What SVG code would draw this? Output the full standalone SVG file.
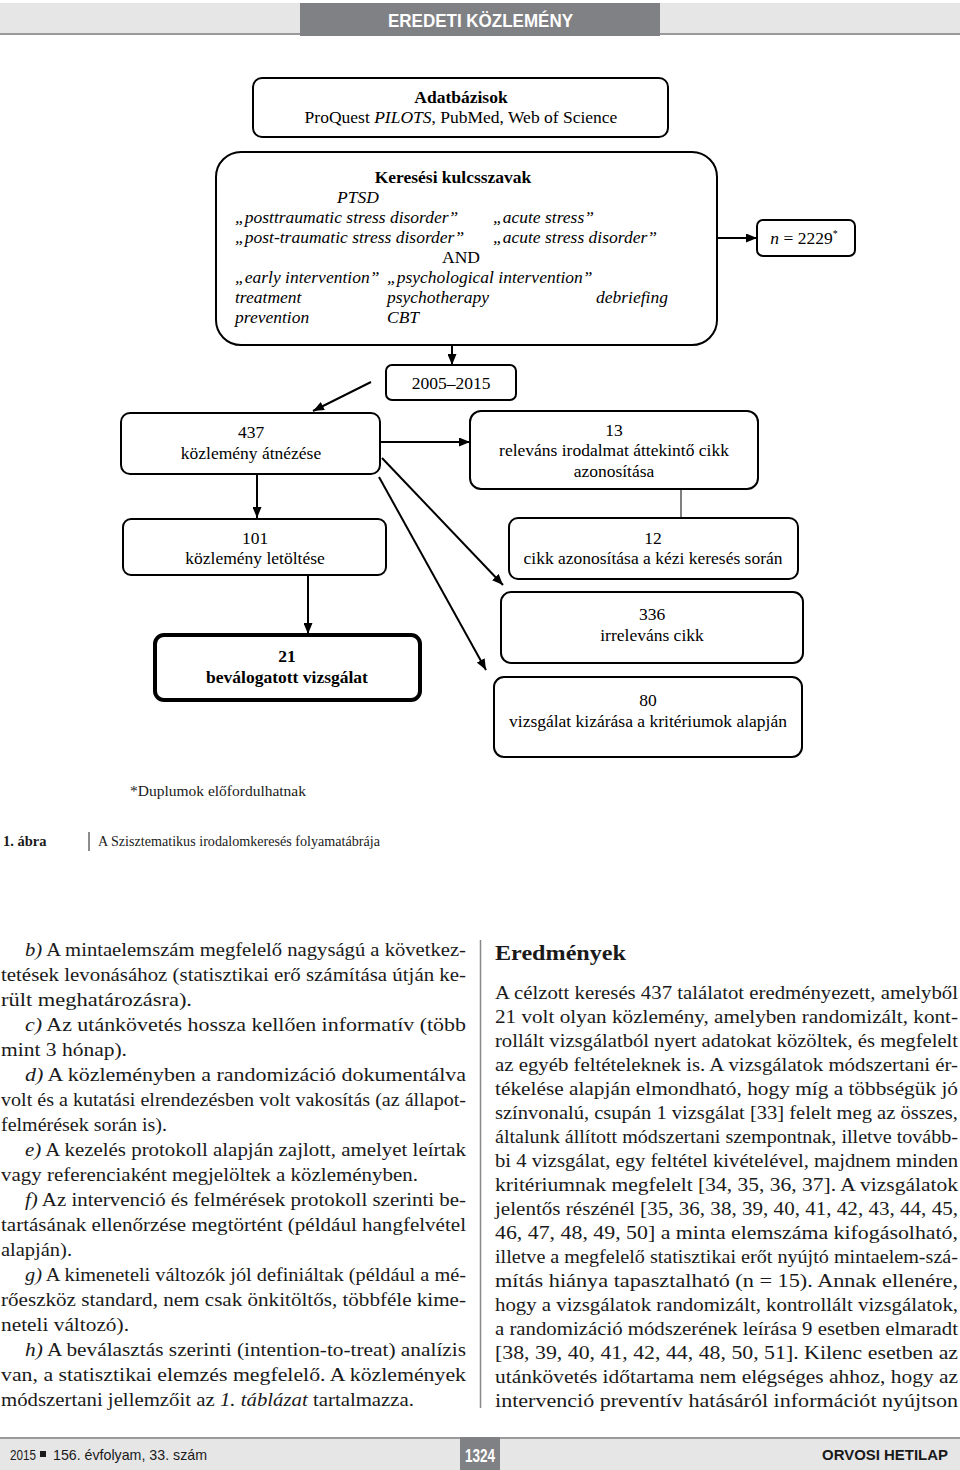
<svg xmlns="http://www.w3.org/2000/svg" width="960" height="1470" viewBox="0 0 960 1470">
<defs>
<marker id="arr" markerUnits="userSpaceOnUse" markerWidth="11" markerHeight="9" refX="11" refY="4.5" orient="auto">
<path d="M0,0 L11,4.5 L0,9 z" fill="#000"/>
</marker>
<style>
.box{fill:#fff;stroke:#000;stroke-width:2}
.thick{fill:#fff;stroke:#000;stroke-width:4}
.dt{font-family:"Liberation Serif","Times New Roman",serif;font-size:17.5px;fill:#000}
.c{text-anchor:middle}
.i{font-style:italic}
.b{font-weight:bold}
.con line{stroke:#000;stroke-width:2;marker-end:url(#arr)}
.body{font-family:"Liberation Serif","Times New Roman",serif;font-size:19px;fill:#1a1a1a}
.sans{font-family:"Liberation Sans",Arial,sans-serif}
</style>
</defs>
<rect width="960" height="1470" fill="#fff"/>
<g id="header">
<rect x="0" y="3" width="960" height="31" fill="#e6e6e6"/>
<rect x="0" y="33" width="960" height="2" fill="#9a9a9a"/>
<rect x="300" y="3" width="360" height="33" fill="#808184"/>
<text x="388" y="27" class="sans b" font-size="18" fill="#fff" textLength="185" lengthAdjust="spacingAndGlyphs">EREDETI KÖZLEMÉNY</text>
</g>
<g id="connectors" class="con">
<line x1="717" y1="238" x2="757" y2="238"/>
<line x1="452" y1="336" x2="452" y2="365"/>
<line x1="371" y1="382" x2="313" y2="411"/>
<line x1="381" y1="442" x2="470" y2="442"/>
<line x1="681" y1="486" x2="681" y2="520" style="stroke-width:1;marker-end:none"/>
<line x1="257" y1="475" x2="257" y2="518"/>
<line x1="308" y1="575" x2="308" y2="634"/>
<line x1="382" y1="458" x2="503" y2="585"/>
<line x1="379" y1="477" x2="486" y2="670"/>
</g>
<g id="n-databases">
<rect class="box" x="253" y="78" width="415" height="59" rx="9"/>
<text class="dt c b" x="461" y="103">Adatbázisok</text>
<text class="dt c" x="461" y="123">ProQuest <tspan class="i">PILOTS</tspan>, PubMed, Web of Science</text>
</g>
<g id="n-keywords">
<rect class="box" x="216" y="152" width="501" height="193" rx="25"/>
<text class="dt c b" x="453" y="183">Keresési kulcsszavak</text>
<text class="dt i" x="337" y="203">PTSD</text>
<text class="dt i" x="235" y="223">„posttraumatic stress disorder”</text>
<text class="dt i" x="493" y="223">„acute stress”</text>
<text class="dt i" x="235" y="243">„post-traumatic stress disorder”</text>
<text class="dt i" x="493" y="243">„acute stress disorder”</text>
<text class="dt c" x="461" y="263">AND</text>
<text class="dt i" x="235" y="283">„early intervention”</text>
<text class="dt i" x="387" y="283">„psychological intervention”</text>
<text class="dt i" x="235" y="303">treatment</text>
<text class="dt i" x="387" y="303">psychotherapy</text>
<text class="dt i" x="596" y="303">debriefing</text>
<text class="dt i" x="235" y="323">prevention</text>
<text class="dt i" x="387" y="323">CBT</text>
</g>
<g id="n-count">
<rect class="box" x="757" y="220" width="98" height="36" rx="6"/>
<text class="dt c" x="804" y="244"><tspan class="i">n</tspan> = 2229<tspan font-size="10" dy="-7">*</tspan></text>
</g>
<g id="n-years">
<rect class="box" x="386" y="365" width="130" height="35" rx="6"/>
<text class="dt c" x="451" y="389">2005–2015</text>
</g>
<g id="n-437">
<rect class="box" x="121" y="413" width="259" height="61" rx="9"/>
<text class="dt c" x="251" y="438">437</text>
<text class="dt c" x="251" y="459">közlemény átnézése</text>
</g>
<g id="n-13">
<rect class="box" x="470" y="411" width="288" height="78" rx="11"/>
<text class="dt c" x="614" y="436">13</text>
<text class="dt c" x="614" y="456">releváns irodalmat áttekintő cikk</text>
<text class="dt c" x="614" y="477">azonosítása</text>
</g>
<g id="n-12">
<rect class="box" x="509" y="518" width="289" height="61" rx="9"/>
<text class="dt c" x="653" y="544">12</text>
<text class="dt c" x="653" y="564">cikk azonosítása a kézi keresés során</text>
</g>
<g id="n-101">
<rect class="box" x="123" y="519" width="263" height="56" rx="8"/>
<text class="dt c" x="255" y="544">101</text>
<text class="dt c" x="255" y="564">közlemény letöltése</text>
</g>
<g id="n-21">
<rect class="thick" x="155" y="635" width="265" height="65" rx="9"/>
<text class="dt c b" x="287" y="662">21</text>
<text class="dt c b" x="287" y="683">beválogatott vizsgálat</text>
</g>
<g id="n-336">
<rect class="box" x="501" y="592" width="302" height="71" rx="10"/>
<text class="dt c" x="652" y="620">336</text>
<text class="dt c" x="652" y="641">irreleváns cikk</text>
</g>
<g id="n-80">
<rect class="box" x="494" y="677" width="308" height="80" rx="10"/>
<text class="dt c" x="648" y="706">80</text>
<text class="dt c" x="648" y="727">vizsgálat kizárása a kritériumok alapján</text>
</g>
<text x="130" y="796" font-family="Liberation Serif,serif" font-size="15" fill="#1a1a1a" textLength="176" lengthAdjust="spacingAndGlyphs">*Duplumok előfordulhatnak</text>
<text x="3" y="846" font-family="Liberation Serif,serif" font-size="14.5" font-weight="bold" fill="#1a1a1a">1. ábra</text>
<line x1="89" y1="832" x2="89" y2="851" stroke="#1a1a1a" stroke-width="1"/>
<text x="98" y="846" font-family="Liberation Serif,serif" font-size="14.5" fill="#1a1a1a" textLength="282" lengthAdjust="spacingAndGlyphs">A Szisztematikus irodalomkeresés folyamatábrája</text>
<g class="body">
<text x="25" y="956" textLength="441" lengthAdjust="spacingAndGlyphs"><tspan class="i">b)</tspan> A mintaelemszám megfelelő nagyságú a következ-</text>
<text x="1" y="981" textLength="465" lengthAdjust="spacingAndGlyphs">tetések levonásához (statisztikai erő számítása útján ke-</text>
<text x="1" y="1006" textLength="191" lengthAdjust="spacingAndGlyphs">rült meghatározásra).</text>
<text x="25" y="1031" textLength="441" lengthAdjust="spacingAndGlyphs"><tspan class="i">c)</tspan> Az utánkövetés hossza kellően informatív (több</text>
<text x="1" y="1056" textLength="126" lengthAdjust="spacingAndGlyphs">mint 3 hónap).</text>
<text x="25" y="1081" textLength="441" lengthAdjust="spacingAndGlyphs"><tspan class="i">d)</tspan> A közleményben a randomizáció dokumentálva</text>
<text x="1" y="1106" textLength="465" lengthAdjust="spacingAndGlyphs">volt és a kutatási elrendezésben volt vakosítás (az állapot-</text>
<text x="1" y="1131" textLength="166" lengthAdjust="spacingAndGlyphs">felmérések során is).</text>
<text x="25" y="1156" textLength="441" lengthAdjust="spacingAndGlyphs"><tspan class="i">e)</tspan> A kezelés protokoll alapján zajlott, amelyet leírtak</text>
<text x="1" y="1181" textLength="417" lengthAdjust="spacingAndGlyphs">vagy referenciaként megjelöltek a közleményben.</text>
<text x="25" y="1206" textLength="441" lengthAdjust="spacingAndGlyphs"><tspan class="i">f)</tspan> Az intervenció és felmérések protokoll szerinti be-</text>
<text x="1" y="1231" textLength="465" lengthAdjust="spacingAndGlyphs">tartásának ellenőrzése megtörtént (például hangfelvétel</text>
<text x="1" y="1256" textLength="71" lengthAdjust="spacingAndGlyphs">alapján).</text>
<text x="25" y="1281" textLength="441" lengthAdjust="spacingAndGlyphs"><tspan class="i">g)</tspan> A kimeneteli változók jól definiáltak (például a mé-</text>
<text x="1" y="1306" textLength="465" lengthAdjust="spacingAndGlyphs">rőeszköz standard, nem csak önkitöltős, többféle kime-</text>
<text x="1" y="1331" textLength="128" lengthAdjust="spacingAndGlyphs">neteli változó).</text>
<text x="25" y="1356" textLength="441" lengthAdjust="spacingAndGlyphs"><tspan class="i">h)</tspan> A beválasztás szerinti (intention-to-treat) analízis</text>
<text x="1" y="1381" textLength="465" lengthAdjust="spacingAndGlyphs">van, a statisztikai elemzés megfelelő. A közlemények</text>
<text x="1" y="1406" textLength="413" lengthAdjust="spacingAndGlyphs">módszertani jellemzőit az <tspan class="i">1. táblázat</tspan> tartalmazza.</text>
</g>
<line x1="480.5" y1="940" x2="480.5" y2="1408" stroke="#888" stroke-width="1.5"/>
<text x="495" y="960" font-family="Liberation Serif,serif" font-size="22" font-weight="bold" fill="#1a1a1a" textLength="131" lengthAdjust="spacingAndGlyphs">Eredmények</text>
<g class="body">
<text x="495" y="999" textLength="463" lengthAdjust="spacingAndGlyphs">A célzott keresés 437 találatot eredményezett, amelyből</text>
<text x="495" y="1023" textLength="463" lengthAdjust="spacingAndGlyphs">21 volt olyan közlemény, amelyben randomizált, kont-</text>
<text x="495" y="1047" textLength="463" lengthAdjust="spacingAndGlyphs">rollált vizsgálatból nyert adatokat közöltek, és megfelelt</text>
<text x="495" y="1071" textLength="463" lengthAdjust="spacingAndGlyphs">az egyéb feltételeknek is. A vizsgálatok módszertani ér-</text>
<text x="495" y="1095" textLength="463" lengthAdjust="spacingAndGlyphs">tékelése alapján elmondható, hogy míg a többségük jó</text>
<text x="495" y="1119" textLength="463" lengthAdjust="spacingAndGlyphs">színvonalú, csupán 1 vizsgálat [33] felelt meg az összes,</text>
<text x="495" y="1143" textLength="463" lengthAdjust="spacingAndGlyphs">általunk állított módszertani szempontnak, illetve tovább-</text>
<text x="495" y="1167" textLength="463" lengthAdjust="spacingAndGlyphs">bi 4 vizsgálat, egy feltétel kivételével, majdnem minden</text>
<text x="495" y="1191" textLength="463" lengthAdjust="spacingAndGlyphs">kritériumnak megfelelt [34, 35, 36, 37]. A vizsgálatok</text>
<text x="495" y="1215" textLength="463" lengthAdjust="spacingAndGlyphs">jelentős részénél [35, 36, 38, 39, 40, 41, 42, 43, 44, 45,</text>
<text x="495" y="1239" textLength="463" lengthAdjust="spacingAndGlyphs">46, 47, 48, 49, 50] a minta elemszáma kifogásolható,</text>
<text x="495" y="1263" textLength="463" lengthAdjust="spacingAndGlyphs">illetve a megfelelő statisztikai erőt nyújtó mintaelem-szá-</text>
<text x="495" y="1287" textLength="463" lengthAdjust="spacingAndGlyphs">mítás hiánya tapasztalható (n = 15). Annak ellenére,</text>
<text x="495" y="1311" textLength="463" lengthAdjust="spacingAndGlyphs">hogy a vizsgálatok randomizált, kontrollált vizsgálatok,</text>
<text x="495" y="1335" textLength="463" lengthAdjust="spacingAndGlyphs">a randomizáció módszerének leírása 9 esetben elmaradt</text>
<text x="495" y="1359" textLength="463" lengthAdjust="spacingAndGlyphs">[38, 39, 40, 41, 42, 44, 48, 50, 51]. Kilenc esetben az</text>
<text x="495" y="1383" textLength="463" lengthAdjust="spacingAndGlyphs">utánkövetés időtartama nem elégséges ahhoz, hogy az</text>
<text x="495" y="1407" textLength="463" lengthAdjust="spacingAndGlyphs">intervenció preventív hatásáról információt nyújtson</text>
</g>
<g id="footer">
<rect x="0" y="1437" width="960" height="2" fill="#9a9a9a"/>
<rect x="0" y="1439" width="960" height="31" fill="#e6e6e6"/>
<rect x="460" y="1437" width="40" height="33" fill="#808184"/>
<text x="10" y="1460" class="sans" font-size="15" fill="#1a1a1a" textLength="26" lengthAdjust="spacingAndGlyphs">2015</text>
<rect x="40" y="1451" width="6" height="6" fill="#1a1a1a"/>
<text x="53" y="1460" class="sans" font-size="15" fill="#1a1a1a" textLength="154" lengthAdjust="spacingAndGlyphs">156. évfolyam, 33. szám</text>
<text x="480" y="1462" class="sans b c" font-size="19" fill="#fff" textLength="30" lengthAdjust="spacingAndGlyphs">1324</text>
<text x="822" y="1460" class="sans b" font-size="15" fill="#1a1a1a" textLength="126" lengthAdjust="spacingAndGlyphs">ORVOSI HETILAP</text>
</g>
</svg>
